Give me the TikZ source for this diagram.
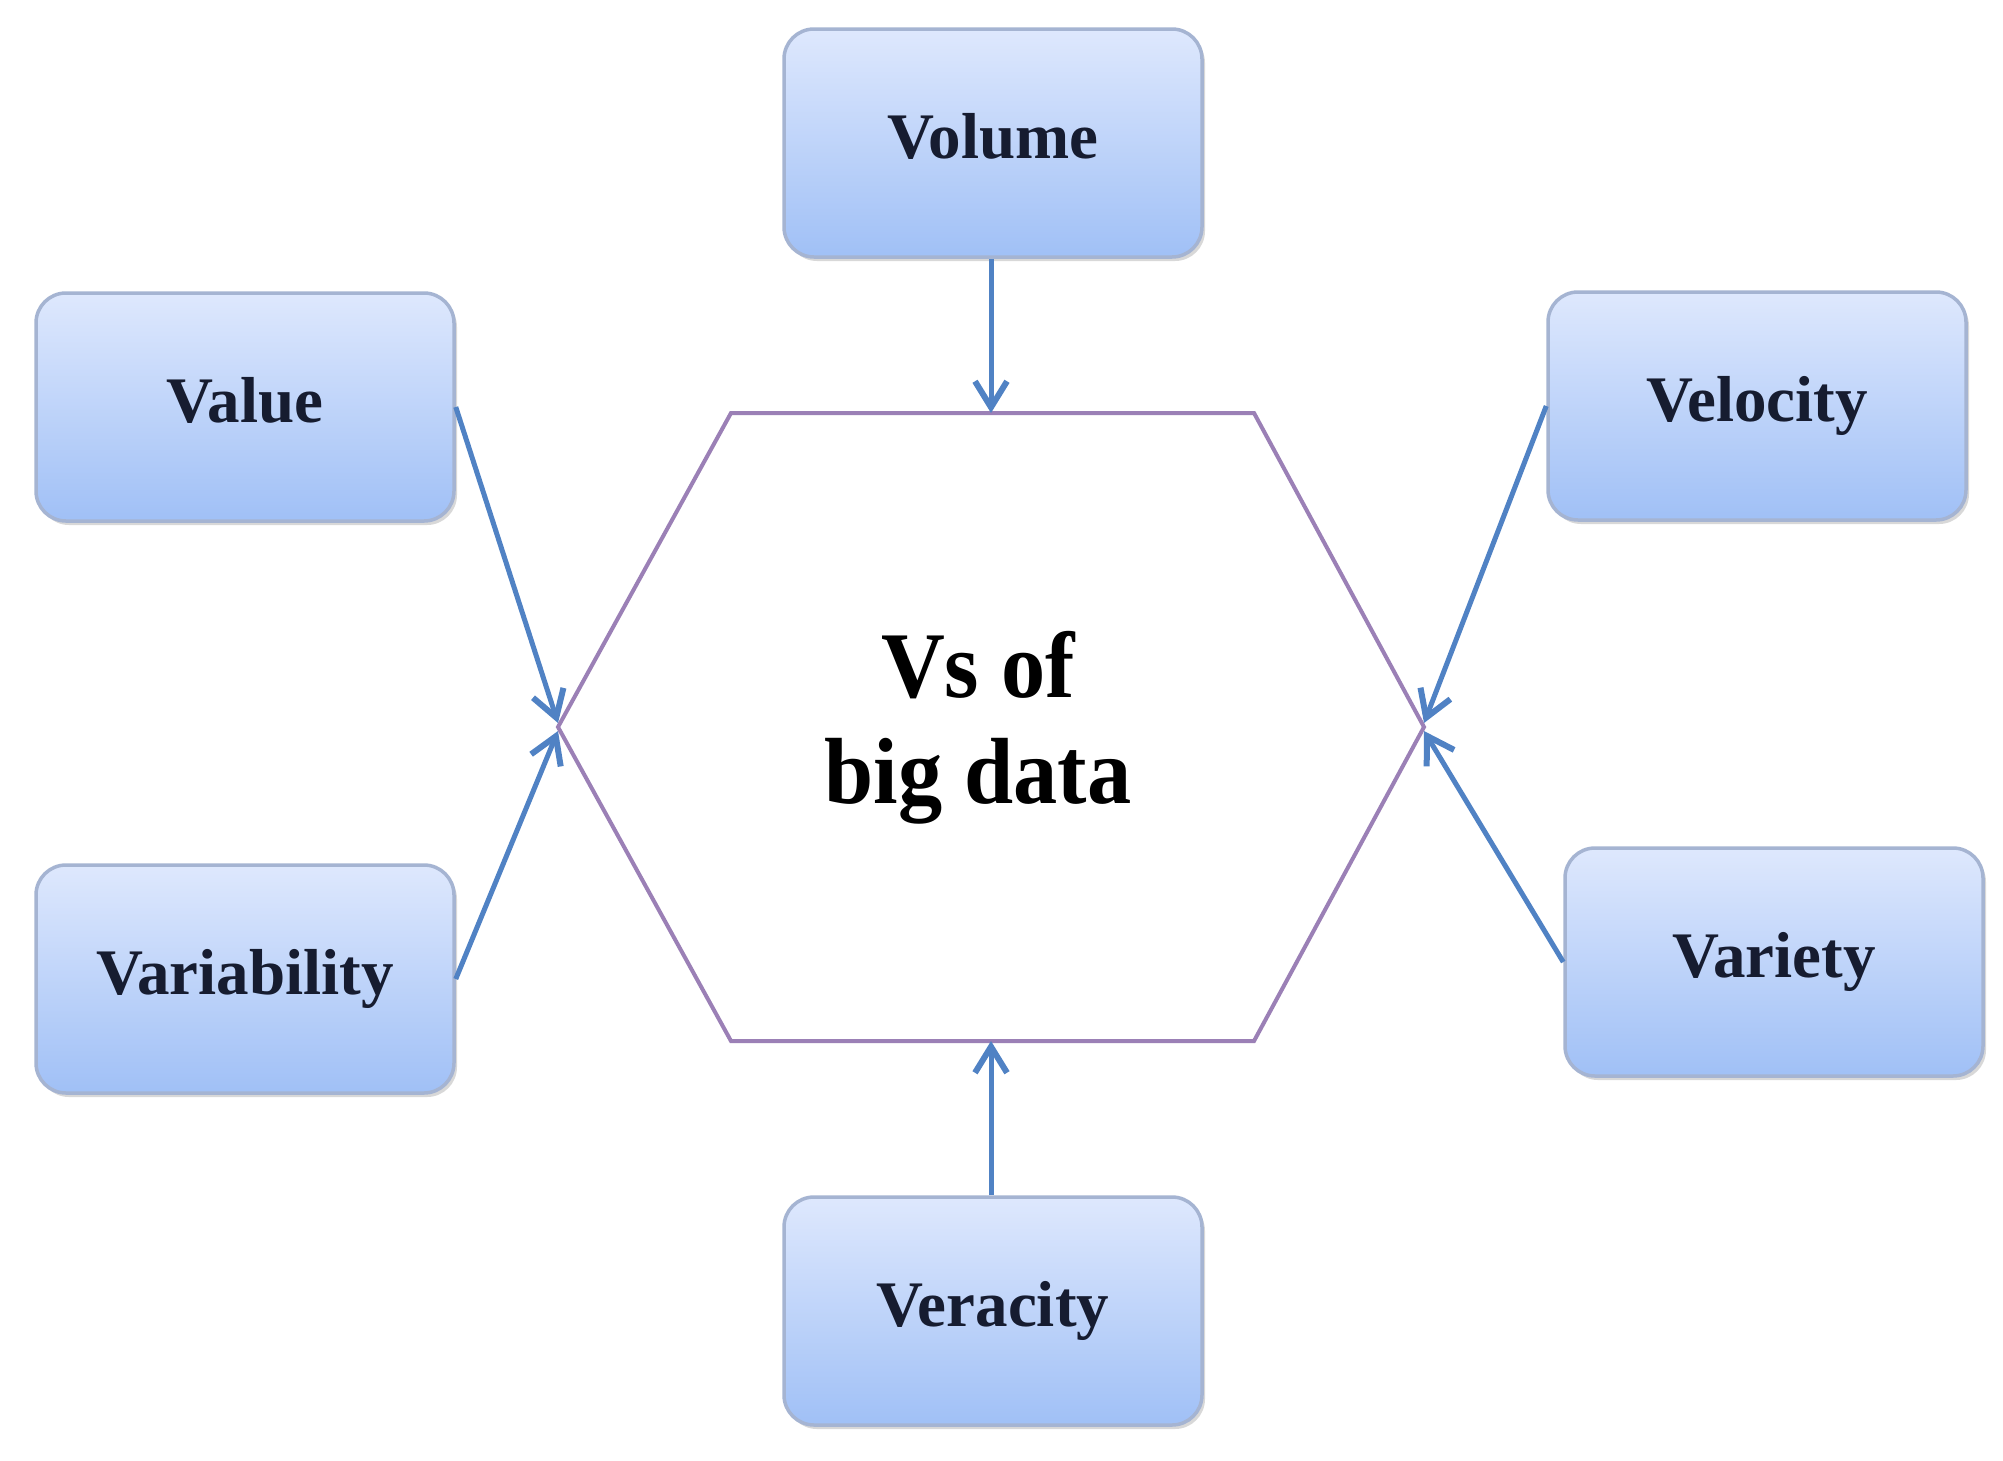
\documentclass[tikz,border=0pt]{standalone}
\usepackage{fontspec}
\setmainfont{Liberation Serif}
\newfontfamily\coreface[FakeStretch=0.94]{Liberation Serif}
\usetikzlibrary{arrows.meta,shadows}
\definecolor{boxtop}{RGB}{222,232,253}
\definecolor{boxbot}{RGB}{160,192,246}
\definecolor{boxline}{RGB}{165,180,210}
\definecolor{hexline}{RGB}{155,128,182}
\definecolor{arrowc}{RGB}{80,130,196}
\definecolor{labelc}{RGB}{22,28,48}
\tikzset{
  vbox/.style={rectangle, rounded corners=30pt, minimum width=418pt, minimum height=228pt,
    top color=boxtop, bottom color=boxbot, draw=boxline, line width=3.5pt,
    drop shadow={shadow xshift=3pt, shadow yshift=-4pt, opacity=0.25, fill=black!60},
    font=\fontsize{65}{70}\selectfont\bfseries, text=labelc,
    text height=31pt, text depth=0pt, inner sep=0pt},
  hexedge/.style={draw=hexline, line width=4pt, line join=miter},
  feed/.style={draw=arrowc, line width=5pt, -{Straight Barb[length=26pt,width=32pt,line width=6pt]}}
}
\begin{document}
\begin{tikzpicture}[x=1pt,y=-1pt]
\useasboundingbox (0,0) rectangle (2003,1460);
\fill[white] (0,0) rectangle (2003,1460);
% hexagon vertices
\coordinate (hl) at (558,727);
\coordinate (htl) at (731,413);
\coordinate (htr) at (1254,413);
\coordinate (hr) at (1424,727);
\coordinate (hbr) at (1254,1041);
\coordinate (hbl) at (731,1041);
\coordinate (htop) at (991,413);
\coordinate (hbot) at (991,1041);
\draw[hexedge] (hl) -- (htl) -- (htr) -- (hr) -- (hbr) -- (hbl) -- cycle;
\node[align=center, font=\coreface\fontsize{94}{106}\selectfont\bfseries, text=black] (core) at (978,728) {Vs of\\big data};
% boxes
\node[vbox] (volume) at (993,143) {Volume};
\node[vbox] (value) at (245,407) {Value};
\node[vbox] (velocity) at (1757,406) {Velocity};
\node[vbox] (variability) at (245,979) {Variability};
\node[vbox] (variety) at (1774,962) {Variety};
\node[vbox] (veracity) at (993,1311) {Veracity};
% connectors
\draw[feed] (volume.south -| htop) -- (htop);
\draw[feed] (veracity.north -| hbot) -- (hbot);
\draw[feed] (value.east) -- ([yshift=4pt]hl);
\draw[feed] (variability.east) -- ([yshift=-4pt]hl);
\draw[feed] (velocity.west) -- ([yshift=4pt]hr);
\draw[feed] (variety.west) -- ([yshift=-4pt]hr);
\end{tikzpicture}
\end{document}
